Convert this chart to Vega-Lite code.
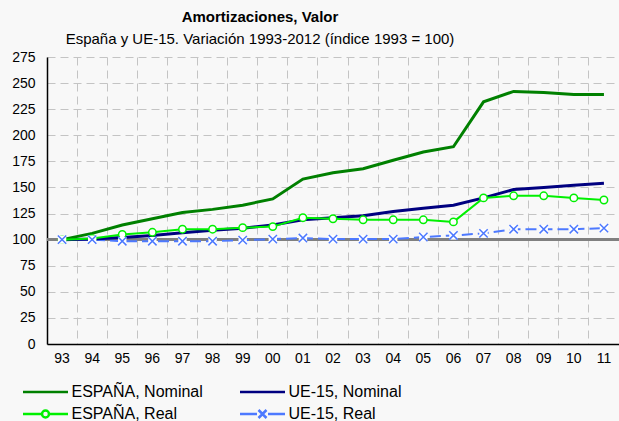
{
  "$schema": "https://vega.github.io/schema/vega-lite/v6.json",
  "width": 572,
  "height": 287,
  "autosize": "none",
  "padding": {"left": 47, "top": 57, "right": 0, "bottom": 77},
  "background": "#f8f8f8",
  "title": {
    "text": "Amortizaciones, Valor",
    "subtitle": "España y UE-15. Variación 1993-2012 (índice 1993 = 100)",
    "anchor": "middle",
    "dx": -73,
    "font": "Liberation Sans",
    "fontSize": 15,
    "fontWeight": "bold",
    "color": "#000000",
    "subtitleFont": "Liberation Sans",
    "subtitleFontSize": 15,
    "subtitleColor": "#000000",
    "subtitlePadding": 7,
    "offset": 3
  },
  "config": {
    "view": {"stroke": null},
    "legend": {
      "orient": "none",
      "direction": "horizontal",
      "legendX": -27,
      "legendY": 327,
      "columns": 2,
      "columnPadding": 32,
      "rowPadding": 5,
      "labelFont": "Liberation Sans",
      "labelFontSize": 16,
      "labelColor": "#000000",
      "labelOffset": 18,
      "symbolOffset": 17.5,
      "symbolSize": 100,
      "symbolStrokeWidth": 2.5,
      "labelLimit": 300
    }
  },
  "data": {
    "values": [
      {"a": "93", "s": "ESPAÑA, Nominal", "v": 100},
      {"a": "94", "s": "ESPAÑA, Nominal", "v": 106},
      {"a": "95", "s": "ESPAÑA, Nominal", "v": 114},
      {"a": "96", "s": "ESPAÑA, Nominal", "v": 120},
      {"a": "97", "s": "ESPAÑA, Nominal", "v": 126},
      {"a": "98", "s": "ESPAÑA, Nominal", "v": 129},
      {"a": "99", "s": "ESPAÑA, Nominal", "v": 133},
      {"a": "00", "s": "ESPAÑA, Nominal", "v": 139},
      {"a": "01", "s": "ESPAÑA, Nominal", "v": 158},
      {"a": "02", "s": "ESPAÑA, Nominal", "v": 164},
      {"a": "03", "s": "ESPAÑA, Nominal", "v": 168},
      {"a": "04", "s": "ESPAÑA, Nominal", "v": 176},
      {"a": "05", "s": "ESPAÑA, Nominal", "v": 184},
      {"a": "06", "s": "ESPAÑA, Nominal", "v": 189},
      {"a": "07", "s": "ESPAÑA, Nominal", "v": 232},
      {"a": "08", "s": "ESPAÑA, Nominal", "v": 242},
      {"a": "09", "s": "ESPAÑA, Nominal", "v": 241},
      {"a": "10", "s": "ESPAÑA, Nominal", "v": 239},
      {"a": "11", "s": "ESPAÑA, Nominal", "v": 239},
      {"a": "93", "s": "UE-15, Nominal", "v": 100},
      {"a": "94", "s": "UE-15, Nominal", "v": 100.5},
      {"a": "95", "s": "UE-15, Nominal", "v": 102},
      {"a": "96", "s": "UE-15, Nominal", "v": 104},
      {"a": "97", "s": "UE-15, Nominal", "v": 106.5},
      {"a": "98", "s": "UE-15, Nominal", "v": 109},
      {"a": "99", "s": "UE-15, Nominal", "v": 111},
      {"a": "00", "s": "UE-15, Nominal", "v": 114},
      {"a": "01", "s": "UE-15, Nominal", "v": 119},
      {"a": "02", "s": "UE-15, Nominal", "v": 121},
      {"a": "03", "s": "UE-15, Nominal", "v": 123},
      {"a": "04", "s": "UE-15, Nominal", "v": 127},
      {"a": "05", "s": "UE-15, Nominal", "v": 130},
      {"a": "06", "s": "UE-15, Nominal", "v": 133},
      {"a": "07", "s": "UE-15, Nominal", "v": 140},
      {"a": "08", "s": "UE-15, Nominal", "v": 148},
      {"a": "09", "s": "UE-15, Nominal", "v": 150},
      {"a": "10", "s": "UE-15, Nominal", "v": 152},
      {"a": "11", "s": "UE-15, Nominal", "v": 154},
      {"a": "93", "s": "ESPAÑA, Real", "v": 100},
      {"a": "94", "s": "ESPAÑA, Real", "v": 101},
      {"a": "95", "s": "ESPAÑA, Real", "v": 105},
      {"a": "96", "s": "ESPAÑA, Real", "v": 107},
      {"a": "97", "s": "ESPAÑA, Real", "v": 110},
      {"a": "98", "s": "ESPAÑA, Real", "v": 110},
      {"a": "99", "s": "ESPAÑA, Real", "v": 111.5},
      {"a": "00", "s": "ESPAÑA, Real", "v": 112.5},
      {"a": "01", "s": "ESPAÑA, Real", "v": 121},
      {"a": "02", "s": "ESPAÑA, Real", "v": 120},
      {"a": "03", "s": "ESPAÑA, Real", "v": 119},
      {"a": "04", "s": "ESPAÑA, Real", "v": 119},
      {"a": "05", "s": "ESPAÑA, Real", "v": 119},
      {"a": "06", "s": "ESPAÑA, Real", "v": 117},
      {"a": "07", "s": "ESPAÑA, Real", "v": 140},
      {"a": "08", "s": "ESPAÑA, Real", "v": 142},
      {"a": "09", "s": "ESPAÑA, Real", "v": 142},
      {"a": "10", "s": "ESPAÑA, Real", "v": 140},
      {"a": "11", "s": "ESPAÑA, Real", "v": 138},
      {"a": "93", "s": "UE-15, Real", "v": 100},
      {"a": "94", "s": "UE-15, Real", "v": 100},
      {"a": "95", "s": "UE-15, Real", "v": 98.5},
      {"a": "96", "s": "UE-15, Real", "v": 98.5},
      {"a": "97", "s": "UE-15, Real", "v": 98.5},
      {"a": "98", "s": "UE-15, Real", "v": 98.5},
      {"a": "99", "s": "UE-15, Real", "v": 99.5},
      {"a": "00", "s": "UE-15, Real", "v": 100.5},
      {"a": "01", "s": "UE-15, Real", "v": 101.5},
      {"a": "02", "s": "UE-15, Real", "v": 100.5},
      {"a": "03", "s": "UE-15, Real", "v": 100.5},
      {"a": "04", "s": "UE-15, Real", "v": 100.5},
      {"a": "05", "s": "UE-15, Real", "v": 102.5},
      {"a": "06", "s": "UE-15, Real", "v": 104},
      {"a": "07", "s": "UE-15, Real", "v": 106},
      {"a": "08", "s": "UE-15, Real", "v": 110},
      {"a": "09", "s": "UE-15, Real", "v": 110},
      {"a": "10", "s": "UE-15, Real", "v": 110},
      {"a": "11", "s": "UE-15, Real", "v": 111}
    ]
  },
  "encoding": {
    "x": {
      "field": "a",
      "type": "ordinal",
      "sort": null,
      "scale": {
        "type": "band",
        "domain": ["93","94","95","96","97","98","99","00","01","02","03","04","05","06","07","08","09","10","11"],
        "paddingInner": 0,
        "paddingOuter": 0
      },
      "axis": {
        "title": null,
        "bandPosition": 0,
        "labelAngle": 0,
        "labelFont": "Liberation Sans",
        "labelFontSize": 14,
        "labelColor": "#000000",
        "labelPadding": 7,
        "ticks": false,
        "domainColor": "#000000",
        "domainWidth": 1.5,
        "grid": true,
        "gridColor": "#c4c4c4",
        "gridDash": [8, 5],
        "gridWidth": 1
      }
    },
    "y": {
      "field": "v",
      "type": "quantitative",
      "scale": {"domain": [0, 275], "nice": false, "zero": true},
      "axis": {
        "title": null,
        "values": [0,25,50,75,100,125,150,175,200,225,250,275],
        "labelFont": "Liberation Sans",
        "labelFontSize": 14,
        "labelColor": "#000000",
        "labelPadding": 12,
        "ticks": false,
        "domainColor": "#000000",
        "domainWidth": 1.5,
        "grid": true,
        "gridColor": "#c4c4c4",
        "gridDash": [8, 5],
        "gridWidth": 1
      }
    }
  },
  "layer": [
    {
      "mark": {"type": "rule", "color": "#808080", "strokeWidth": 2.5},
      "encoding": {"y": {"datum": 100}, "x": null}
    },
    {
      "transform": [{"filter": "datum.s === 'UE-15, Real'"}],
      "mark": {"type": "line", "color": "#4d79ff", "strokeWidth": 2, "strokeDash": [11, 5]}
    },
    {
      "transform": [{"filter": "datum.s === 'UE-15, Nominal'"}],
      "mark": {"type": "line", "color": "#000080", "strokeWidth": 3}
    },
    {
      "transform": [{"filter": "datum.s === 'ESPAÑA, Nominal'"}],
      "mark": {"type": "line", "color": "#008000", "strokeWidth": 3}
    },
    {
      "transform": [{"filter": "datum.s === 'ESPAÑA, Real'"}],
      "mark": {"type": "line", "color": "#00f000", "strokeWidth": 2}
    },
    {
      "transform": [{"filter": "datum.s === 'ESPAÑA, Real'"}],
      "mark": {"type": "point", "shape": "circle", "filled": false, "fill": "#ffffff", "fillOpacity": 1, "stroke": "#00f000", "strokeWidth": 1.5, "size": 55, "opacity": 1}
    },
    {
      "transform": [{"filter": "datum.s === 'UE-15, Real'"}],
      "mark": {"type": "point", "shape": "square", "filled": true, "color": "#ffffff", "size": 70, "opacity": 1}
    },
    {
      "transform": [{"filter": "datum.s === 'UE-15, Real'"}],
      "mark": {"type": "point", "shape": "M-1,-1L1,1M-1,1L1,-1", "filled": false, "stroke": "#4d79ff", "strokeWidth": 1.5, "size": 70, "opacity": 1}
    },
    {
      "transform": [{"filter": "false"}],
      "mark": {"type": "point", "filled": false, "opacity": 1},
      "encoding": {
        "color": {
          "field": "s",
          "type": "nominal",
          "scale": {
            "domain": ["ESPAÑA, Nominal", "UE-15, Nominal", "ESPAÑA, Real", "UE-15, Real"],
            "range": ["#008000", "#000080", "#00f000", "#4d79ff"]
          },
          "title": null
        },
        "shape": {
          "field": "s",
          "type": "nominal",
          "scale": {
            "domain": ["ESPAÑA, Nominal", "UE-15, Nominal", "ESPAÑA, Real", "UE-15, Real"],
            "range": [
              "M-4.5,0L4.5,0",
              "M-4.5,0L4.5,0",
              "M-4.5,0L-0.7,0M0.7,0L4.5,0M-0.7,0A0.7,0.7 0 1,0 0.7,0A0.7,0.7 0 1,0 -0.7,0",
              "M-4.5,0L-1.1,0M1.1,0L4.5,0M-0.8,-0.8L0.8,0.8M-0.8,0.8L0.8,-0.8"
            ]
          },
          "title": null,
          "legend": {
            "title": null,
            "direction": "horizontal",
            "symbolOpacity": 1,
            "symbolFillColor": "#ffffff",
            "encode": {
              "symbols": {
                "update": {
                  "fill": {"value": "#ffffff"},
                  "fillOpacity": {"value": 1},
                  "strokeWidth": {"signal": "indexof(datum.label, 'Nominal') >= 0 ? 3 : 2"}
                }
              }
            }
          }
        }
      }
    }
  ]
}
